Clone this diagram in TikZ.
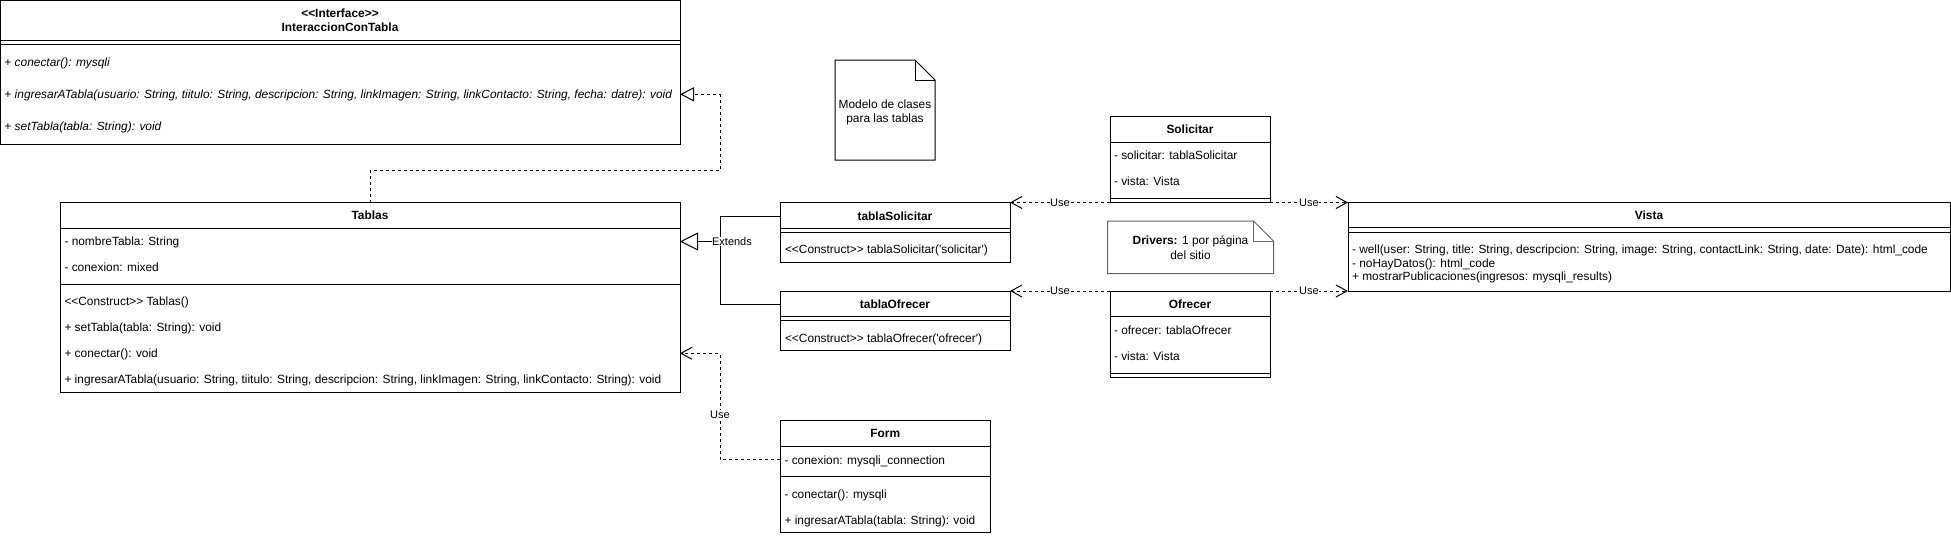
\documentclass[tikz,border=0pt]{standalone}
\usepackage{fontspec}
\setmainfont{Liberation Sans}
\usetikzlibrary{arrows.meta}
\definecolor{notegray}{HTML}{666666}
\newcommand{\stereo}[1]{<\kern0pt<#1>\kern0pt>}
\begin{document}
\begin{tikzpicture}[x=1pt,y=-1pt,
  every node/.style={inner sep=0pt, outer sep=0pt},
  cls/.style={draw, line width=1pt, anchor=north west, fill=white},
  sepl/.style={line width=1pt},
  row/.style={anchor=west, text height=8.6pt, text depth=0pt, font=\fontsize{11.9}{14}\selectfont},
  irow/.style={row, font=\fontsize{11.9}{14}\selectfont\itshape},
  ttl/.style={anchor=center, text height=8.6pt, text depth=0pt, font=\fontsize{11.9}{14}\selectfont\bfseries},
  ntxt/.style={anchor=center, text height=8.6pt, text depth=0pt, font=\fontsize{11.9}{14}\selectfont},
  lbl/.style={fill=white, inner sep=0.6pt, text height=7.9pt, text depth=0pt, font=\fontsize{11}{13}\selectfont},
  dep/.style={line width=1pt, dash pattern=on 3pt off 3pt, -{Straight Barb[length=11pt,width=12pt]}},
  real/.style={line width=1pt, dash pattern=on 3pt off 3pt, -{Triangle[open,length=14pt,width=14pt]}},
  gen/.style={line width=1pt, -{Triangle[open,length=18pt,width=18pt]}},
  notebox/.style={line width=1pt, fill=white}
]
\useasboundingbox (0,0) rectangle (1951,536);

% ---------- Interface ----------
\node[cls, minimum width=679.5pt, minimum height=143.5pt] (iface) at (0.5,0.5) {};
\draw[sepl] (0.5,40.5) -- (680,40.5);
\draw[sepl] (0.5,44.5) -- (680,44.5);
\node[ttl] (ifst) at (340,13.5) {\stereo{Interface}};
\node[ttl] (ifname) at (340,27.5) {InteraccionConTabla};
\node[irow] (im1) at (4.5,62) {+ conectar(): mysqli};
\node[irow] (im2) at (4.5,94.3) {+ ingresarATabla(usuario: String, tiitulo: String, descripcion: String, linkImagen: String, linkContacto: String, fecha: datre): void};
\node[irow] (im3) at (4.5,126.5) {+ setTabla(tabla: String): void};

% ---------- Tablas ----------
\node[cls, minimum width=620pt, minimum height=190pt] (tablas) at (60,202.5) {};
\draw[sepl] (60,228) -- (680,228);
\draw[sepl] (60,284) -- (680,284);
\node[ttl] (tt) at (370,215.3) {Tablas};
\node[row] (ta1) at (64.5,241.5) {- nombreTabla: String};
\node[row] (ta2) at (64.5,267.5) {- conexion: mixed};
\node[row] (tm1) at (64.5,301) {\stereo{Construct} Tablas()};
\node[row] (tm2) at (64.5,327) {+ setTabla(tabla: String): void};
\node[row] (tm3) at (64.5,353.3) {+ conectar(): void};
\node[row] (tm4) at (64.5,379.5) {+ ingresarATabla(usuario: String, tiitulo: String, descripcion: String, linkImagen: String, linkContacto: String): void};

% ---------- tablaSolicitar ----------
\node[cls, minimum width=230pt, minimum height=59.5pt] (tsol) at (780,202.5) {};
\draw[sepl] (780,228) -- (1010,228);
\draw[sepl] (780,232) -- (1010,232);
\node[ttl] (tsolt) at (895,216.5) {tablaSolicitar};
\node[row] (tsolm) at (785,249.5) {\stereo{Construct} tablaSolicitar(\textquotesingle solicitar\textquotesingle)};

% ---------- tablaOfrecer ----------
\node[cls, minimum width=230pt, minimum height=59pt] (tofr) at (780,291) {};
\draw[sepl] (780,316.3) -- (1010,316.3);
\draw[sepl] (780,320.3) -- (1010,320.3);
\node[ttl] (tofrt) at (895,304.3) {tablaOfrecer};
\node[row] (tofrm) at (785,338) {\stereo{Construct} tablaOfrecer(\textquotesingle ofrecer\textquotesingle)};

% ---------- Solicitar ----------
\node[cls, minimum width=160pt, minimum height=86.5pt] (sol) at (1110,116) {};
\draw[sepl] (1110,142.3) -- (1270,142.3);
\draw[sepl] (1110,198.5) -- (1270,198.5);
\node[ttl] (solt) at (1190,129.3) {Solicitar};
\node[row] (sola1) at (1114,155.5) {- solicitar: tablaSolicitar};
\node[row] (sola2) at (1114,181.5) {- vista: Vista};

% ---------- Ofrecer ----------
\node[cls, minimum width=160pt, minimum height=86.3pt] (ofr) at (1110,291) {};
\draw[sepl] (1110,316.7) -- (1270,316.7);
\draw[sepl] (1110,373.3) -- (1270,373.3);
\node[ttl] (ofrt) at (1190,304) {Ofrecer};
\node[row] (ofra1) at (1114,330) {- ofrecer: tablaOfrecer};
\node[row] (ofra2) at (1114,356.5) {- vista: Vista};

% ---------- Vista ----------
\node[cls, minimum width=602pt, minimum height=88.5pt] (vista) at (1348,202.5) {};
\draw[sepl] (1348,227.5) -- (1950,227.5);
\draw[sepl] (1348,232) -- (1950,232);
\node[ttl] (vistat) at (1649,215) {Vista};
\node[row] (vm1) at (1352,249.5) {- well(user: String, title: String, descripcion: String, image: String, contactLink: String, date: Date): html\_code};
\node[row] (vm2) at (1352,263) {- noHayDatos(): html\_code};
\node[row] (vm3) at (1352,276.5) {+ mostrarPublicaciones(ingresos: mysqli\_results)};

% ---------- Form ----------
\node[cls, minimum width=210.5pt, minimum height=112.5pt] (form) at (780,420) {};
\draw[sepl] (780,446.7) -- (990.5,446.7);
\draw[sepl] (780,476.7) -- (990.5,476.7);
\node[ttl] (formt) at (885.25,433.5) {Form};
\node[row] (fa1) at (784.5,459.7) {- conexion: mysqli\_connection};
\node[row] (fm1) at (784.5,493.7) {- conectar(): mysqli};
\node[row] (fm2) at (784.5,519.7) {+ ingresarATabla(tabla: String): void};

% ---------- Notes ----------
\draw[notebox] (835,60) -- (915,60) -- (935,80) -- (935,160) -- (835,160) -- cycle;
\draw[line width=1pt] (915,60) -- (915,80) -- (935,80);
\node[ntxt] (n1a) at (885,104.5) {Modelo de clases};
\node[ntxt] (n1b) at (885,118) {para las tablas};

\draw[notebox, draw=notegray] (1107.5,221) -- (1253.5,221) -- (1273.5,241) -- (1273.5,273.5) -- (1107.5,273.5) -- cycle;
\draw[line width=1pt, draw=notegray] (1253.5,221) -- (1253.5,241) -- (1273.5,241);
\node[ntxt] (n2a) at (1190.5,240.5) {\textbf{Drivers:} 1 por página};
\node[ntxt] (n2b) at (1190.5,255) {del sitio};

% ---------- Connectors ----------
\coordinate (bend1) at (720,170);
\draw[real] (tablas.north) |- (bend1) |- (iface.east |- im2);

\coordinate (ext) at (720,241.5);
\draw[line width=1pt] (tsol.west |- tsolt) -| (ext);
\draw[line width=1pt] (tofr.west |- tofrt) -| (ext);
\draw[gen] (ext) -- (tablas.east |- ext);
\node[lbl, anchor=west] (extl) at (711.5,241.5) {Extends};

\coordinate (fbend) at (720,459.7);
\draw[dep] (form.west |- fa1) -- (fbend) |- (tablas.east |- tm3);
\node[lbl] (usef) at (720,415) {Use};

\draw[dep] (sol.south west) -- node[lbl] (use1) {Use} (tsol.north east);
\draw[dep] (sol.south east) -- node[lbl] (use2) {Use} (vista.north west);
\draw[dep] (ofr.north west) -- node[lbl] (use3) {Use} (tofr.north east);
\draw[dep] (ofr.north east) -- node[lbl] (use4) {Use} (vista.south west);
\end{tikzpicture}
\end{document}
